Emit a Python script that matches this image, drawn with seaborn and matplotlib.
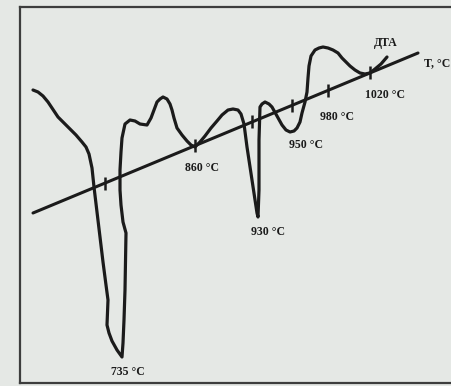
import numpy as np
import pandas as pd
import matplotlib
matplotlib.use("Agg")
import matplotlib.pyplot as plt
import seaborn as sns

# DTA trace (image units: x to the right, y downwards)
curve_x = [33, 38, 43, 48, 52, 58, 64, 70, 76, 82, 86, 89, 92, 94, 97, 100,
           103, 106, 108, 107, 109, 112, 117, 122,
           123, 124, 125, 126, 123, 121, 120, 120, 121, 122, 125, 130, 135,
           140, 147, 151, 154, 157, 160, 163, 167, 170, 172, 174, 177, 182,
           187, 191, 195, 200, 205, 211, 217, 222, 228, 233, 238, 241, 244,
           247, 252, 257, 258, 259, 259, 260, 262, 265, 269, 272, 277, 282,
           286, 290, 294, 297, 300, 302, 305, 307, 308, 309, 311, 315, 319,
           323, 328, 333, 338, 342, 350, 355, 360, 365, 370, 375, 381, 387]
curve_y = [90, 92, 96, 102, 108, 117, 123, 129, 135, 142, 147, 154, 168, 187, 212, 237,
           262, 285, 300, 325, 333, 341, 350, 357,
           343, 320, 290, 233, 222, 205, 190, 170, 152, 138, 124, 120, 121,
           124, 125, 118, 110, 102, 99, 97, 99, 104, 110, 118, 128, 135,
           141, 145, 147, 142, 136, 128, 121, 115, 110, 109, 110, 114, 124,
           147, 180, 213, 217, 190, 140, 107, 104, 102, 104, 107, 116, 125,
           130, 132, 131, 128, 122, 113, 102, 92, 78, 66, 56, 50, 48,
           47, 48, 50, 53, 58, 66, 70, 73, 74, 73, 69, 64, 57]

# temperature axis (straight baseline)
base_x = [33, 418]
base_y = [213, 53]

# tick marks on the temperature axis and their labels
tick_x = [105, 195, 252, 292, 328, 370]
labels = ["735 °C", "860 °C", "930 °C", "950 °C", "980 °C", "1020 °C"]
label_x = [128, 202, 268, 306, 337, 385]
label_y = [372, 168, 232, 145, 117, 95]

bg = "#e5e8e5"
ink = "#1b1b1b"

sns.set_theme(style="white")
plt.rcParams["font.family"] = ["Liberation Serif", "DejaVu Serif"]

fig = plt.figure(figsize=(4.51, 3.86), dpi=100, facecolor=bg)
W, H = 451, 386
# axes = the drawn frame (left edge 20, top 7, bottom 383, open on the right)
ax = fig.add_axes([20 / W, (H - 383) / H, (461 - 20) / W, (383 - 7) / H])
ax.set_facecolor(bg)
ax.set_xlim(20, 461)
ax.set_ylim(383, 7)

for s in ["left", "top", "bottom"]:
    ax.spines[s].set_color("#3d3d3d")
    ax.spines[s].set_linewidth(1.6)
ax.spines["right"].set_visible(False)
ax.set_xticks([])
ax.set_yticks([])

df = pd.DataFrame({"x": curve_x, "y": curve_y})
sns.lineplot(data=df, x="x", y="y", sort=False, estimator=None,
             color=ink, linewidth=2.3, ax=ax,
             solid_joinstyle="round", solid_capstyle="round")
sns.lineplot(x=base_x, y=base_y, sort=False, estimator=None,
             color=ink, linewidth=2.2, ax=ax)

ty = np.interp(tick_x, base_x, base_y)
ax.vlines(tick_x, ty - 6.5, ty + 6.5, color=ink, linewidth=1.8)

for t, lx, ly in zip(labels, label_x, label_y):
    ax.text(lx, ly, t, ha="center", va="center", fontsize=8.5,
            fontweight="bold", color=ink)

ax.text(386, 43, "ДТА", ha="center", va="center", fontsize=8.5,
        fontweight="bold", color=ink)
ax.text(424, 63, "T, °C", ha="left", va="center", fontsize=8.5,
        fontweight="bold", color=ink)

ax.set_xlabel("")
ax.set_ylabel("")
plt.savefig("out.png", dpi=100, facecolor=bg)
